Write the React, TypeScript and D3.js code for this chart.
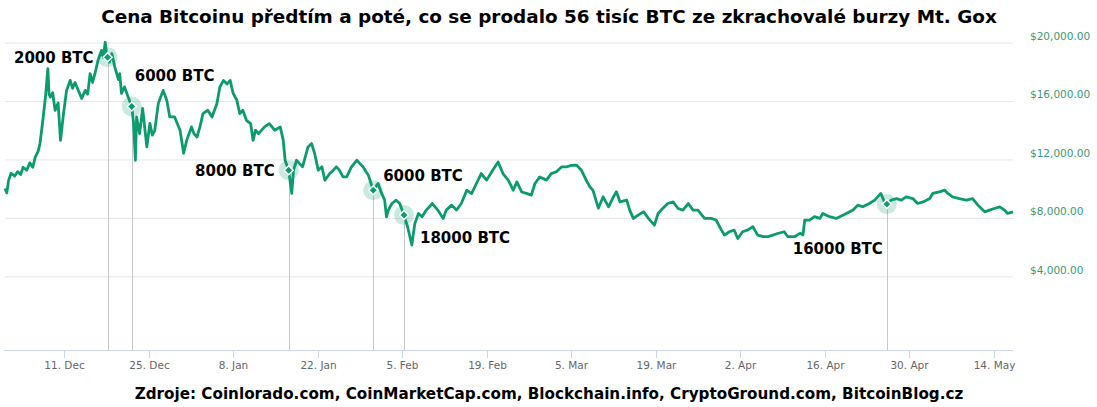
import * as d3 from "d3";
import React from "react";

// days since 1 Dec 2017 00:00 and BTC price (USD)
const days = [
  0.2, 0.5, 0.8, 1.2, 1.8, 2.3, 2.8, 3.2, 3.8, 4.3, 4.8, 5.2, 5.7, 6.0, 6.5, 6.9, 7.3, 7.5, 7.7, 8.1,
  8.5, 9.0, 9.4, 9.9, 10.4, 11.0, 11.4, 11.8, 12.3, 12.9, 13.5, 13.9, 14.3, 14.7, 15.1, 15.6, 16.2, 16.5, 16.8, 17.1,
  17.5, 17.9, 18.4, 19.0, 19.2, 19.5, 20.0, 20.6, 21.2, 21.5, 21.8, 22.0, 22.5, 23.0, 23.7, 24.2, 24.6, 25.0, 25.6, 26.4,
  27.0, 27.5, 28.3, 29.2, 29.8, 30.3, 31.1, 31.5, 32.0, 32.5, 33.0, 33.8, 34.5, 35.3, 35.8, 36.4, 37.0, 37.5, 38.0, 38.6,
  39.1, 39.6, 40.2, 40.9, 41.3, 41.7, 42.2, 43.2, 44.0, 44.9, 45.8, 46.3, 46.6, 47.2, 47.7, 48.0, 48.5, 49.0, 49.5, 50.4,
  51.0, 51.5, 52.1, 52.7, 53.2, 54.0, 54.6, 55.1, 55.6, 56.2, 56.8, 57.6, 58.5, 59.0, 59.5, 60.4, 61.2, 61.6, 62.0, 62.6,
  63.1, 63.4, 63.7, 64.3, 65.0, 65.6, 66.3, 66.9, 67.6, 68.1, 68.7, 69.3, 70.0, 71.0, 71.9, 72.8, 73.3, 74.2, 75.0, 75.8,
  76.7, 77.5, 78.3, 79.1, 80.0, 81.0, 81.9, 82.7, 83.6, 84.4, 85.0, 85.8, 86.6, 87.4, 88.0, 88.8, 89.9, 90.7, 91.5, 92.4,
  93.2, 94.0, 94.9, 95.7, 96.5, 97.1, 97.6, 98.5, 99.3, 100.2, 101.0, 101.5, 102.1, 103.2, 103.7, 104.3, 105.1, 106.0, 106.8, 107.8,
  108.4, 108.9, 110.0, 110.9, 111.7, 112.5, 113.4, 114.2, 115.0, 116.1, 117.2, 118.0, 118.9, 119.4, 120.2, 121.0, 121.6, 122.4, 123.2, 124.1,
  124.9, 125.8, 126.6, 127.4, 128.2, 129.3, 129.9, 131.0, 131.9, 132.4, 132.7, 133.5, 134.3, 135.2, 135.7, 136.8, 137.9, 138.5, 139.6, 140.7,
  141.5, 142.3, 143.4, 144.3, 145.3, 145.9, 146.3, 147.0, 147.9, 148.7, 149.5, 150.6, 151.4, 152.3, 153.4, 153.9, 155.0, 155.9, 156.4, 157.2,
  158.3, 159.5, 160.5, 161.4, 162.5, 163.3, 164.1, 165.0, 165.8, 166.3, 167.2,
];
const prices = [
  10050, 9750, 10600, 11090, 10900, 11200, 11000, 11500, 11300, 11800, 11500, 12180, 12600, 13140, 14800, 16300, 18240, 16500, 16300, 16600,
  15390, 15900, 13340, 15190, 16760, 17440, 16900, 17300, 16800, 16210, 16760, 16500, 17900, 17300, 17900, 18800, 19490, 19000, 20050, 19030,
  18700, 19280, 18350, 17500, 17900, 16550, 17000, 16300, 15660, 14500, 11980, 14940, 13800, 15530, 12890, 14500, 13700, 14000, 15870, 16760,
  16080, 14940, 14940, 14030, 12460, 13340, 14260, 13800, 13570, 14260, 15170, 15400, 14940, 15850, 16990, 17440, 17200, 17440, 16550, 16100,
  15170, 15400, 14710, 14480, 13340, 14030, 13800, 14260, 14480, 14030, 14260, 13340, 11980, 11300, 9710, 11300, 11980, 11750, 11530, 12890,
  13120, 12440, 11300, 11530, 10610, 11070, 11300, 11530, 11300, 10840, 10840, 11530, 11980, 11750, 11530, 10960, 9930, 10160, 10390, 9710,
  9250, 8110, 8570, 9020, 9250, 9020, 8230, 7430, 6180, 7660, 8340, 8110, 8570, 9020, 8570, 8000, 8570, 8910, 8570, 9020,
  9930, 9700, 10390, 11070, 10620, 11300, 11860, 11070, 10610, 9930, 10500, 9810, 9710, 9590, 10390, 10840, 10620, 11070, 11180, 11520,
  11520, 11630, 11640, 11300, 10610, 10160, 9930, 8700, 9480, 8790, 9480, 9820, 9130, 9250, 8570, 8000, 8230, 8460, 8000, 7540,
  8340, 8570, 9020, 9130, 8680, 8570, 9020, 8570, 8570, 8000, 8000, 7890, 7200, 6860, 7090, 7200, 6630, 7090, 7200, 7430,
  6860, 6750, 6750, 6860, 6970, 7090, 6750, 6750, 6980, 6870, 7890, 7890, 8120, 8000, 8340, 8120, 8000, 8120, 8340, 8570,
  8910, 8800, 9020, 9250, 9710, 9130, 8980, 9250, 9360, 9250, 9480, 9360, 9020, 9130, 9360, 9710, 9820, 9930, 9710, 9480,
  9360, 9250, 9360, 8910, 8450, 8570, 8680, 8790, 8570, 8340, 8450,
];

// Mt. Gox sales
const saleDays = [17.2, 21.2, 47.2, 61.2, 66.3, 146.3];
const salePrices = [19030, 15660, 11300, 9930, 8230, 8980];
const saleLabels = ["2000 BTC", "6000 BTC", "8000 BTC", "6000 BTC", "18000 BTC", "16000 BTC"];

const tickDates = [
  "2017-12-11", "2017-12-25", "2018-01-08", "2018-01-22", "2018-02-05", "2018-02-19",
  "2018-03-05", "2018-03-19", "2018-04-02", "2018-04-16", "2018-04-30", "2018-05-14",
];
const yTicks = [4000, 8000, 12000, 16000, 20000];

const title = "Cena Bitcoinu předtím a poté, co se prodalo 56 tisíc BTC ze zkrachovalé burzy Mt. Gox";
const source = "Zdroje: Coinlorado.com, CoinMarketCap.com, Blockchain.info, CryptoGround.com, BitcoinBlog.cz";

const W = 1097;
const H = 407;
const GREEN = "#0c9a6f";
const START = new Date(2017, 11, 1).getTime();
const toDate = (d: number) => new Date(START + d * 86400000);

// label placement relative to the marker: [dx, dy, anchor]
const labelOffsets: [number, number, string][] = [
  [-14, 6, "end"],
  [3, -25, "start"],
  [-14, 6, "end"],
  [10, -9, "start"],
  [16, 28, "start"],
  [-4, 50, "end"],
];

export default function App() {
  const points = days.map((d, i) => ({ date: toDate(d), value: prices[i] }));

  const x = d3
    .scaleTime()
    .domain(d3.extent(points, (p) => p.date) as [Date, Date])
    .range([5, 1013]);
  const y = d3.scaleLinear().domain([-1000, 20000]).range([350, 43]);

  const line = d3
    .line<{ date: Date; value: number }>()
    .x((p) => x(p.date))
    .y((p) => y(p.value));

  const fmtX = d3.timeFormat("%-d. %b");
  const fmtY = d3.format("$,.2f");

  return (
    <div style={{ position: "absolute", left: 0, top: 0 }}>
      <svg width={W} height={H} style={{ display: "block", background: "#fff" }}>
        <text
          x={549}
          y={23}
          textAnchor="middle"
          fontFamily="DejaVu Sans"
          fontWeight="bold"
          fontSize={18.4}
        >
          {title}
        </text>

        {yTicks.map((t) => (
          <g key={t}>
            <line x1={5} x2={1013} y1={y(t)} y2={y(t)} stroke="#e6e6e6" />
            <text
              x={1030}
              y={y(t) - 3}
              fontFamily="DejaVu Sans"
              fontSize={10.5}
              fill="#3a9a74"
            >
              {fmtY(t)}
            </text>
          </g>
        ))}

        <line x1={4} x2={1013} y1={350.5} y2={350.5} stroke="#ccd6eb" />
        {tickDates.map((s) => {
          const d = new Date(s + "T00:00:00");
          const tx = Math.round(x(d)) + 0.5;
          return (
            <g key={s}>
              <line x1={tx} x2={tx} y1={350} y2={358} stroke="#ccd6eb" />
              <text
                x={tx}
                y={369}
                textAnchor="middle"
                fontFamily="DejaVu Sans"
                fontSize={10.5}
                fill="#666"
              >
                {fmtX(d)}
              </text>
            </g>
          );
        })}

        {saleDays.map((d, i) => {
          const mx = Math.round(x(toDate(d))) + 0.5;
          return (
            <line key={i} x1={mx} x2={mx} y1={y(salePrices[i])} y2={350} stroke="#c8c8c8" />
          );
        })}

        <path d={line(points) ?? ""} fill="none" stroke={GREEN} strokeWidth={2.8} strokeLinejoin="round" />

        {saleDays.map((d, i) => {
          const mx = x(toDate(d));
          const my = y(salePrices[i]);
          const [dx, dy, anchor] = labelOffsets[i];
          return (
            <g key={i}>
              <circle cx={mx} cy={my} r={10} fill={GREEN} fillOpacity={0.22} />
              <path
                d={`M${mx},${my - 4.5}L${mx + 4.5},${my}L${mx},${my + 4.5}L${mx - 4.5},${my}Z`}
                fill={GREEN}
                stroke="#fff"
                strokeWidth={1.5}
              />
              <text
                x={mx + dx}
                y={my + dy}
                textAnchor={anchor}
                fontFamily="DejaVu Sans"
                fontWeight="bold"
                fontSize={15}
                fill="#000"
              >
                {saleLabels[i]}
              </text>
            </g>
          );
        })}

        <text
          x={549}
          y={399}
          textAnchor="middle"
          fontFamily="DejaVu Sans"
          fontWeight="bold"
          fontSize={15.2}
        >
          {source}
        </text>
      </svg>
    </div>
  );
}
